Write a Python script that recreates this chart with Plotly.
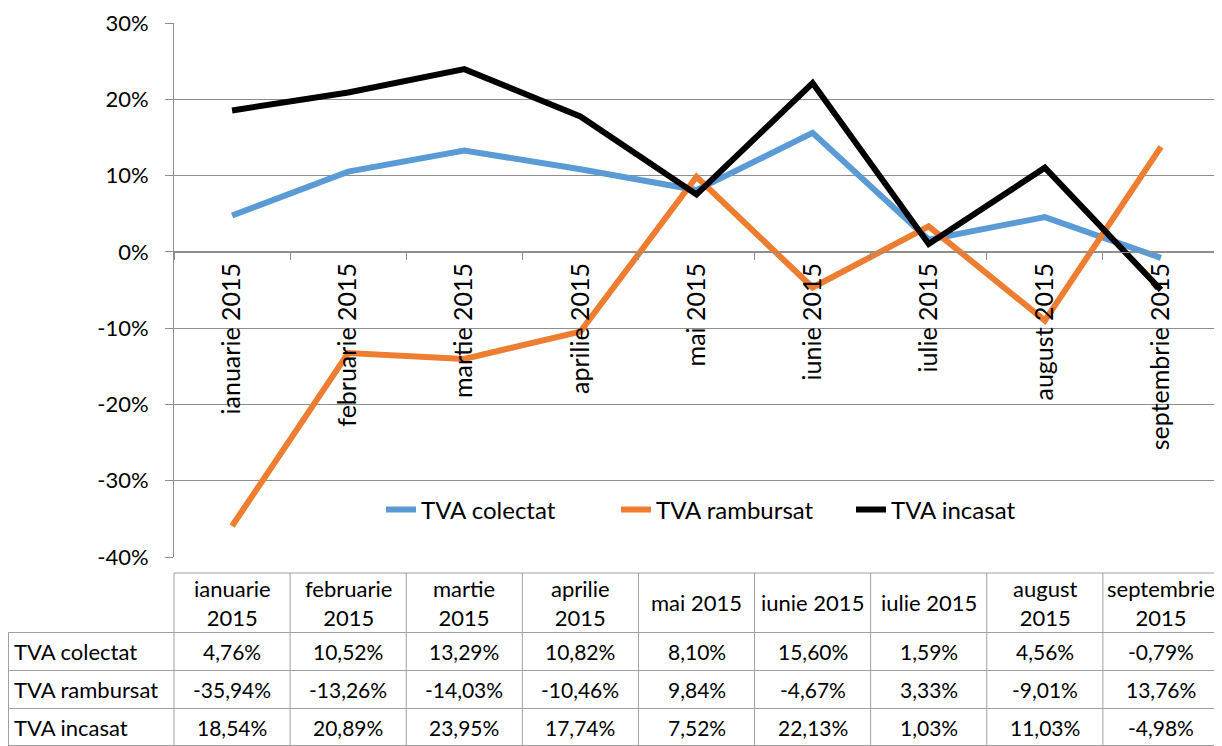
import plotly.graph_objects as go

# ---- data ----
months = ["ianuarie 2015", "februarie 2015", "martie 2015", "aprilie 2015", "mai 2015",
          "iunie 2015", "iulie 2015", "august 2015", "septembrie 2015"]
header_labels = ["ianuarie<br>2015", "februarie<br>2015", "martie<br>2015", "aprilie<br>2015",
                 "mai 2015", "iunie 2015", "iulie 2015", "august<br>2015", "septembrie<br>2015"]
series_names = ["TVA colectat", "TVA rambursat", "TVA incasat"]
tva_colectat = [4.76, 10.52, 13.29, 10.82, 8.10, 15.60, 1.59, 4.56, -0.79]
tva_rambursat = [-35.94, -13.26, -14.03, -10.46, 9.84, -4.67, 3.33, -9.01, 13.76]
tva_incasat = [18.54, 20.89, 23.95, 17.74, 7.52, 22.13, 1.03, 11.03, -4.98]
y_tickvals = [-40, -30, -20, -10, 0, 10, 20, 30]
y_ticktext = ["-40%", "-30%", "-20%", "-10%", "0%", "10%", "20%", "30%"]

colors = ["#5B9BD5", "#ED7D31", "#000000"]
series = [tva_colectat, tva_rambursat, tva_incasat]

# page body has an 8px margin, so the figure starts at (8, 8) in the window
OFF = 8
W, H = 1222 - OFF, 746 - OFF
FONT = "Lato"
GRID = "#8E8E8E"
TBL = "#A0A0A0"

def px_x(x):
    return (x - OFF) / W

def px_y(y):
    return 1 - (y - OFF) / H

def fmt(v):
    return f"{v:.2f}%".replace(".", ",")

fig = go.Figure()
for name, vals, col in zip(series_names, series, colors):
    fig.add_trace(go.Scatter(
        x=months, y=vals, name=name, mode="lines",
        line=dict(color=col, width=6),
        xaxis="x", yaxis="y", hoverinfo="skip"))

# ---- data table below the chart (columns follow the category axis) ----
n = len(months)
tbl_top, hdr_bot = 573, 632.5
row_edges = [632.5, 670.5, 708.5, 745.5]
label_left = 8

shapes = []
# header top border (only over the month columns)
shapes.append(dict(type="line", xref="x domain", yref="paper", x0=0, x1=1,
                   y0=px_y(tbl_top), y1=px_y(tbl_top), line=dict(color=TBL, width=1)))
# horizontal row borders (label column + month columns)
for yy in row_edges:
    shapes.append(dict(type="line", xref="paper", yref="paper", x0=px_x(label_left), x1=px_x(1219),
                       y0=px_y(yy), y1=px_y(yy), line=dict(color=TBL, width=1)))
# vertical borders at category boundaries
for k in range(n + 1):
    shapes.append(dict(type="line", xref="x domain", yref="paper", x0=k / n, x1=k / n,
                       y0=px_y(tbl_top), y1=px_y(row_edges[-1]), line=dict(color=TBL, width=1)))
# left border of the label column
shapes.append(dict(type="line", xref="paper", yref="paper", x0=px_x(label_left + 0.5),
                   x1=px_x(label_left + 0.5), y0=px_y(hdr_bot), y1=px_y(row_edges[-1]),
                   line=dict(color=TBL, width=1)))

annotations = []
for i, lab in enumerate(header_labels):
    annotations.append(dict(xref="x", yref="paper", x=months[i], y=px_y((tbl_top + hdr_bot) / 2),
                            text=lab, showarrow=False, xanchor="center", yanchor="middle",
                            font=dict(family=FONT, size=22, color="#000000")))
for r, (name, vals) in enumerate(zip(series_names, series)):
    yc = px_y((row_edges[r] + row_edges[r + 1]) / 2)
    annotations.append(dict(xref="paper", yref="paper", x=px_x(12), y=yc, text=name,
                            showarrow=False, xanchor="left", yanchor="middle",
                            font=dict(family=FONT, size=22, color="#000000")))
    for i, v in enumerate(vals):
        annotations.append(dict(xref="x", yref="paper", x=months[i], y=yc, text=fmt(v),
                                showarrow=False, xanchor="center", yanchor="middle",
                                font=dict(family=FONT, size=21, color="#000000")))

fig.update_layout(
    width=W, height=H,
    margin=dict(l=0, r=0, t=0, b=0),
    paper_bgcolor="white", plot_bgcolor="white",
    font=dict(family=FONT, size=20, color="#000000"),
    showlegend=True,
    legend=dict(orientation="h", x=px_x(381), xanchor="left", y=px_y(510), yanchor="middle",
                font=dict(family=FONT, size=24, color="#000000"),
                bgcolor="rgba(0,0,0,0)", entrywidth=190, entrywidthmode="pixels",
                traceorder="normal"),
    xaxis=dict(
        domain=[px_x(174), px_x(1219)], anchor="free", position=px_y(252),
        type="category", range=[-0.5, 8.5],
        showline=True, linecolor=GRID, linewidth=1,
        ticks="outside", tickson="boundaries", ticklen=7, tickcolor=GRID,
        tickangle=-90, showgrid=False, automargin=False,
        tickfont=dict(family=FONT, size=25, color="#000000")),
    yaxis=dict(
        domain=[px_y(557), px_y(23)], anchor="x",
        range=[-40, 30], tickvals=y_tickvals, ticktext=y_ticktext,
        showgrid=True, gridcolor=GRID, gridwidth=1,
        showline=True, linecolor=GRID, linewidth=1,
        ticks="outside", ticklen=8, tickcolor=GRID, ticklabelstandoff=12,
        zeroline=False, automargin=False,
        tickfont=dict(family=FONT, size=22, color="#000000")),
    shapes=shapes,
    annotations=annotations,
)

fig.write_html("out.html")
